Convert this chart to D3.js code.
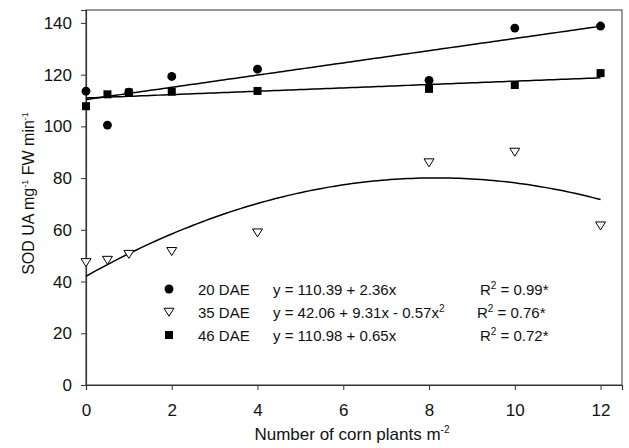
<!DOCTYPE html>
<html>
<head>
<meta charset="utf-8">
<script src="https://cdn.jsdelivr.net/npm/d3@7"></script>
<style>
  html, body { margin: 0; padding: 0; background: #fff; }
  svg { display: block; font-family: Arial, "Liberation Sans", sans-serif; }
</style>
</head>
<body>
<svg id="chart" width="629" height="448"></svg>
<script>
// Plant density (corn plants per m²)
const density = [0, 0.5, 1, 2, 4, 8, 10, 12];

// SOD activity at each sampling date
const dae20 = [113.6, 100.5, 113.2, 119.3, 122.1, 117.8, 138.0, 138.8];
const dae35 = [47.4, 48.3, 50.6, 51.7, 58.9, 86.0, 90.1, 61.6];
const dae46 = [107.8, 112.4, 113.1, 113.4, 113.7, 114.5, 116.0, 120.6];

// Regression coefficients [c0, c1, c2] for y = c0 + c1·x + c2·x²
const fit20 = [110.39, 2.36, 0];
const fit35 = [42.06, 9.31, -0.57];
const fit46 = [110.98, 0.65, 0];

const seriesNames = ["20 DAE", "35 DAE", "46 DAE"];
const equations = ["y = 110.39 + 2.36x", "y = 42.06 + 9.31x - 0.57x", "y = 110.98 + 0.65x"];
const r2Values = ["0.99*", "0.76*", "0.72*"];

const xTicks = [0, 2, 4, 6, 8, 10, 12];
const yTicks = [0, 20, 40, 60, 80, 100, 120, 140];

const svg = d3.select("#chart");
const margin = { left: 86, right: 7, top: 10, bottom: 63 };
const W = 629, H = 448;

const x = d3.scaleLinear().domain([0, 12.5]).range([margin.left, W - margin.right]);
const y = d3.scaleLinear().domain([0, 145]).range([H - margin.bottom, margin.top]);

// plot frame
svg.append("rect")
  .attr("x", x(0)).attr("y", y(145))
  .attr("width", x(12.5) - x(0)).attr("height", y(0) - y(145))
  .attr("fill", "none").attr("stroke", "#555").attr("stroke-width", 1.2);

// axes
const xAxis = svg.append("g")
  .attr("transform", `translate(0,${y(0)})`)
  .call(d3.axisBottom(x).tickValues(xTicks).tickSize(5).tickPadding(14).tickFormat(d3.format("d")));
const yAxis = svg.append("g")
  .attr("transform", `translate(${x(0)},0)`)
  .call(d3.axisLeft(y).tickValues(yTicks).tickSize(5).tickPadding(9).tickFormat(d3.format("d")));
[xAxis, yAxis].forEach(g => {
  g.select(".domain").attr("stroke", "#333").attr("stroke-width", 1.2);
  g.selectAll(".tick line").attr("stroke", "#333");
  g.selectAll(".tick text").attr("fill", "#111").style("font-size", "17px")
    .style("font-family", "Arial, 'Liberation Sans', sans-serif");
});

// axis titles
const xTitle = svg.append("text")
  .attr("x", (x(0) + x(12.5)) / 2 - 2).attr("y", 440)
  .attr("text-anchor", "middle").style("font-size", "17px").attr("fill", "#111");
xTitle.append("tspan").text("Number of corn plants m");
xTitle.append("tspan").attr("dy", -7).style("font-size", "10px").text("-2");

const yTitle = svg.append("text")
  .attr("transform", `translate(34,${(y(0) + y(145)) / 2 - 4}) rotate(-90)`)
  .attr("text-anchor", "middle").style("font-size", "16px").attr("fill", "#111");
yTitle.append("tspan").text("SOD UA mg");
yTitle.append("tspan").attr("dy", -6).style("font-size", "9px").text("-1");
yTitle.append("tspan").attr("dy", 6).text(" FW min");
yTitle.append("tspan").attr("dy", -6).style("font-size", "9px").text("-1");

// fitted curves
const poly = c => v => c[0] + c[1] * v + c[2] * v * v;
const curveX = d3.range(0, 12.0001, 0.1);
const line = d3.line().x(d => x(d[0])).y(d => y(d[1]));
[fit20, fit35, fit46].forEach(c => {
  const f = poly(c);
  svg.append("path")
    .datum(curveX.map(v => [v, f(v)]))
    .attr("d", line)
    .attr("fill", "none").attr("stroke", "#000").attr("stroke-width", 1.5);
});

// marker shapes
const circleSym = d3.symbol().type(d3.symbolCircle).size(62);
const squareSym = d3.symbol().type(d3.symbolSquare).size(64);
const triPath = (s) => `M${-s},${-s * 0.75}L${s},${-s * 0.75}L0,${s * 0.85}Z`;

function drawMarker(g, kind, cx, cy) {
  if (kind === 0) {
    g.append("path").attr("d", circleSym()).attr("transform", `translate(${cx},${cy})`).attr("fill", "#000");
  } else if (kind === 1) {
    g.append("path").attr("d", triPath(5)).attr("transform", `translate(${cx},${cy})`)
      .attr("fill", "#fff").attr("stroke", "#000").attr("stroke-width", 1);
  } else {
    g.append("path").attr("d", squareSym()).attr("transform", `translate(${cx},${cy})`).attr("fill", "#000");
  }
}

const pts = svg.append("g");
[dae20, dae35, dae46].forEach((vals, k) => {
  vals.forEach((v, i) => drawMarker(pts, k, x(density[i]), y(v)));
});

// legend with regression equations
const legend = svg.append("g").style("font-size", "15px").attr("fill", "#111");
const rowY = [289, 312, 335];
seriesNames.forEach((name, i) => {
  drawMarker(legend, i, 169, rowY[i]);
  legend.append("text").attr("x", 198).attr("y", rowY[i] + 6).text(name);
  const eq = legend.append("text").attr("x", 273).attr("y", rowY[i] + 6);
  eq.append("tspan").text(equations[i]);
  if (i === 1) eq.append("tspan").attr("dy", -6).style("font-size", "10px").text("2");
  const r = legend.append("text").attr("x", i === 1 ? 477 : 480).attr("y", rowY[i] + 6);
  r.append("tspan").text("R");
  r.append("tspan").attr("dy", -6).style("font-size", "10px").text("2");
  r.append("tspan").attr("dy", 6).text(" = " + r2Values[i]);
});
</script>
</body>
</html>
